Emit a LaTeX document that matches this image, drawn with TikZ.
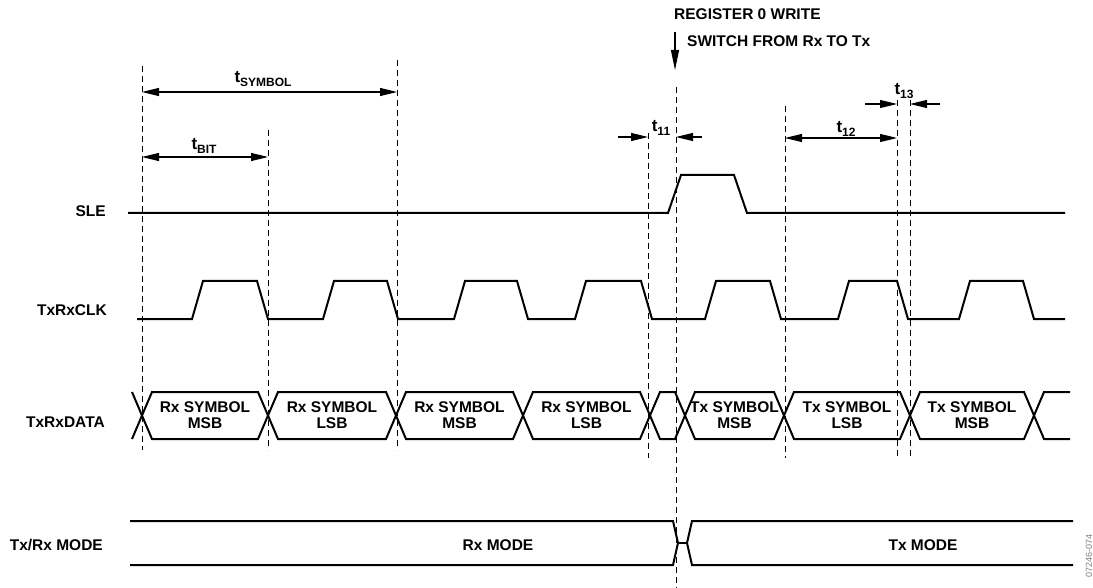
\documentclass[tikz,border=0pt]{standalone}
\usepackage{fontspec}
\setmainfont{Liberation Sans}
\usetikzlibrary{arrows.meta}

% t with a small lowered index
\newcommand{\tlbl}[1]{t\raisebox{-3.5pt}{\fontsize{12}{12}\selectfont #1}}

\begin{document}
\begin{tikzpicture}[x=1pt,y=-1pt,
  sig/.style={line width=2pt},
  guide/.style={line width=0.9pt,dash pattern=on 6pt off 4pt},
  dim/.style={line width=1.1pt},
  >={Triangle[length=17pt,width=8pt]},
  lbl/.style={font=\fontsize{15.5}{16}\selectfont\bfseries,inner sep=0pt},
  tname/.style={font=\fontsize{17}{17}\selectfont\bfseries,inner sep=0pt,anchor=base}]
  \useasboundingbox (0,0) rectangle (1093,588);

  % dashed timing guides
  \foreach \x/\top/\bot [count=\i] in {142/66/450, 268/130/450, 397/60/450,
      648/133/458, 676/87/588, 785/106/458, 897/100/458, 910/100/458}
  {
    \coordinate (g\i) at (\x,\top);
    \draw[guide] (g\i) -- (\x,\bot);
  }

  % signal names
  \node[lbl,anchor=base east] (sle)  at (106,217) {SLE};
  \node[lbl,anchor=base east] (clk)  at (107,316) {TxRxCLK};
  \node[lbl,anchor=base east] (data) at (105,427) {TxRxDATA};
  \node[lbl,anchor=base east] (mode) at (103,550) {Tx/Rx MODE};

  % register write event
  \node[lbl,anchor=base west] (reg) at (674,20) {REGISTER 0 WRITE};
  \node[lbl,anchor=base west] (sw)  at (687,47) {SWITCH FROM Rx TO Tx};
  \draw[dim,-{Triangle[length=20pt,width=8pt]}] (675,32) -- (675,70);

  % timing parameters
  \node[tname] (tsym) at (263,83)  {\tlbl{SYMBOL}};
  \node[tname] (tbit) at (204,150) {\tlbl{BIT}};
  \node[tname] (t11)  at (661,132) {\tlbl{11}};
  \node[tname] (t12)  at (846,133) {\tlbl{12}};
  \node[tname] (t13)  at (904,95)  {\tlbl{13}};
  \draw[dim,<->] (g1 |- 0,92) -- (g3 |- 0,92);
  \draw[dim,<->] (g1 |- 0,157) -- (g2 |- 0,157);
  \draw[dim,->] (618,137) -- (g4 |- 0,137);
  \draw[dim,->] (702,137) -- (g5 |- 0,137);
  \draw[dim,<->] (g6 |- 0,138) -- (g7 |- 0,138);
  \draw[dim,->] (865,104) -- (g7 |- 0,104);
  \draw[dim,->] (940,104) -- (g8 |- 0,104);

  % SLE
  \draw[sig] (128,213) -- (668,213) -- (681,175) -- (734,175) -- (747,213) -- (1065,213);

  % TxRxCLK
  \draw[sig] (137,319)
    \foreach \r/\f in {192/257, 323/387, 454/517, 575/641, 705/770, 838/897, 959/1023}
    { -- (\r,319) -- (\r+11,281) -- (\f,281) -- (\f+11,319) } -- (1065,319);

  % TxRxDATA
  \draw[sig] (132,392) -- (142,415.5) -- (132,439);
  \foreach \a/\b/\s/\w [count=\i] in {142/268/Rx/MSB, 268/396/Rx/LSB, 396/523/Rx/MSB,
      523/650/Rx/LSB, 685/784/Tx/MSB, 784/910/Tx/LSB, 910/1034/Tx/MSB}
  {
    \draw[sig] (\a+10,392) -- (\b-10,392) -- (\b,415.5) -- (\b-10,439)
      -- (\a+10,439) -- (\a,415.5) -- cycle;
    \node[lbl,align=center] (d\i) at ({(\a+\b)/2},415) {\s\ SYMBOL\\\w};
  }
  \draw[sig] (660,392) -- (675,392) -- (685,415.5) -- (675,439) -- (660,439) -- (650,415.5) -- cycle;
  \draw[sig] (1070,392) -- (1044,392) -- (1034,415.5) -- (1044,439) -- (1070,439);

  % Tx/Rx MODE
  \draw[sig] (130,521) -- (673,521) -- (678,543) -- (673,565) -- (130,565);
  \draw[sig] (678,543) -- (687,543);
  \draw[sig] (1073,521) -- (692,521) -- (687,543) -- (692,565) -- (1073,565);
  \node[lbl,anchor=base] (rxm) at (498,550) {Rx MODE};
  \node[lbl,anchor=base] (txm) at (923,550) {Tx MODE};

  \node[rotate=90,font=\fontsize{9}{9}\selectfont,text=gray,inner sep=0pt] (fig) at (1089,556) {07246-074};
\end{tikzpicture}
\end{document}
